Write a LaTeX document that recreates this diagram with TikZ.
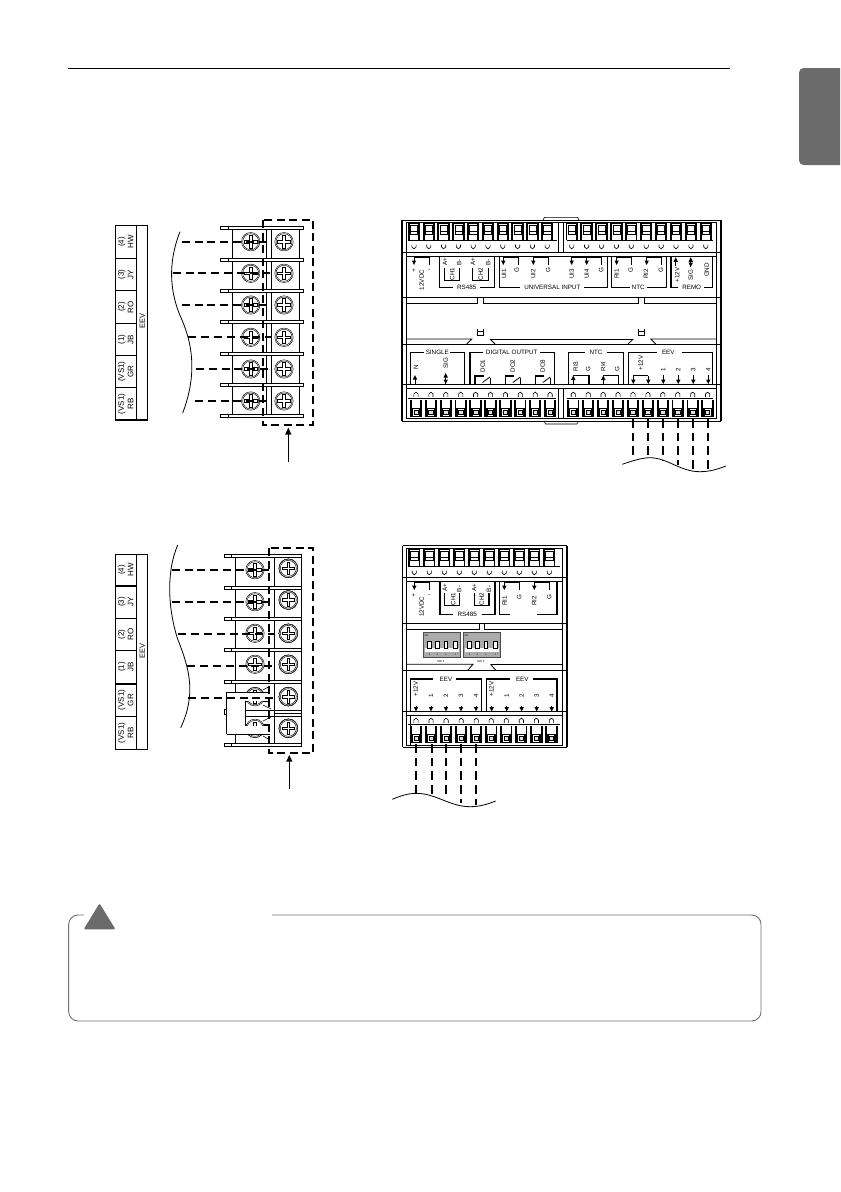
\documentclass[tikz,border=0pt]{standalone}
\usepackage{fontspec}
\setmainfont{Liberation Sans}
\newcounter{nn}
\tikzset{
  lbl/.style={inner sep=0pt,outer sep=0pt,font=\fontsize{4.7}{5}\selectfont},
  rlbl/.style={lbl,rotate=90},
  tbl/.style={inner sep=0pt,outer sep=0pt,font=\fontsize{6}{7}\selectfont,rotate=90},
  tblh/.style={inner sep=0pt,outer sep=0pt,font=\fontsize{5.6}{7}\selectfont,rotate=90},
  hair/.style={line width=0.45pt,black},
  med/.style={line width=0.85pt,black},
  thin2/.style={line width=0.6pt,black},
  thk/.style={line width=1.1pt,black},
  bar/.style={line width=1.4pt,black},
  wire/.style={line width=1.5pt,black,dash pattern=on 6pt off 3.6pt},
  vwire/.style={line width=1.3pt,black,dash pattern=on 6.5pt off 3.8pt},
  box/.style={line width=1.7pt,black,dash pattern=on 6pt off 3.4pt},
  curve/.style={line width=0.6pt,black},
  cbox/.style={line width=0.7pt,draw=gray55},
  dipbox/.style={line width=0.6pt,draw=black!70,fill=black!33}
}
\colorlet{gray55}{black!55}
\newcommand\thennn{\arabic{nn}}
\newcommand\T[3]{\stepcounter{nn}\node[lbl] (t\thennn) at (#1,#2) {#3};}
\newcommand\R[3]{\stepcounter{nn}\node[rlbl] (t\thennn) at (#1,#2) {#3};}
\newcommand\TB[3]{\stepcounter{nn}\node[tbl] (t\thennn) at (#1,#2) {#3};}
% arrows
\newcommand\dn[3]{\draw[hair] (#1,#2) -- (#1,#3-3); \fill ({#1-2.2},{#3-4.5}) -- ({#1+2.2},{#3-4.5}) -- (#1,#3) -- cycle;}
\newcommand\up[3]{\draw[hair] (#1,#2+3) -- (#1,#3); \fill ({#1-2.2},{#2+4.5}) -- ({#1+2.2},{#2+4.5}) -- (#1,#2) -- cycle;}
\newcommand\ud[3]{\up{#1}{#2}{#3}\fill ({#1-2.2},{#3-4.5}) -- ({#1+2.2},{#3-4.5}) -- (#1,#3) -- cycle;}
% screw
\newcommand\screw[2]{\begin{scope}[shift={(#1,#2)}]
 \draw[line width=0.35pt,fill=white] (0,0) circle (9.2);
 \draw[line width=0.35pt] (0,0) circle (8);
 \draw[line width=0.7pt] (-1.3,-6.3)--(1.3,-6.3)--(1.3,-1.3)--(6.3,-1.3)--(6.3,1.3)--(1.3,1.3)--(1.3,6.3)--(-1.3,6.3)--(-1.3,1.3)--(-6.3,1.3)--(-6.3,-1.3)--(-1.3,-1.3)--cycle;
\end{scope}}
% terminals
\newcommand\tterm[2]{\begin{scope}[shift={(#1,#2)}]
 \draw[bar] (-5.2,0)--(-5.2,17);\draw[bar] (5.2,0)--(5.2,17);
 \draw[thin2] (-5.6,0)--(5.6,0);
 \draw[hair] (-3.6,2.5) rectangle (3.6,8.5);
 \draw[hair] (-3.6,8.5)--(-3.6,11)--(3.6,11)--(3.6,8.5);
 \draw[hair] (-2.1,21.5)--(-2.1,24)--(0,25.8)--(2.1,24)--(2.1,21.5);
\end{scope}}
\newcommand\bterm[2]{\begin{scope}[shift={(#1,#2)}]
 \draw[hair] (-2.1,5.5)--(-2.1,2.2)--(0,0.4)--(2.1,2.2)--(2.1,5.5);
 \draw[bar] (-5.2,8.5)--(-5.2,25.5);\draw[bar] (5.2,8.5)--(5.2,25.5);
 \draw[line width=1pt,fill=white] (-3.6,17) rectangle (3.6,24.5);
 \draw[hair,fill=black!12] (-2.2,18.7) rectangle (2.2,23);
\end{scope}}
\begin{document}
\begin{tikzpicture}[x=0.75pt,y=-0.75pt]
\useasboundingbox (0,0) rectangle (840,1192);
\fill[white] (0,0) rectangle (840,1192);
% header + tab
\draw[line width=0.7pt] (68,68) -- (730,68);
\begin{scope}
\clip (790,60) rectangle (840,175);
\fill[black!58,rounded corners=3.5pt] (855,68) -- (799,68) -- (799,165) -- (855,165) -- cycle;
\end{scope}

% ===== left panel 1 =====
\draw[thk] (115.3,225.7) rectangle (147.3,420);
\draw[med] (136.7,225.7) -- (136.7,420);
\foreach \y in {258.3,290.7,323.3,355.7,387.7} \draw[med] (115.3,\y) -- (136.7,\y);
\foreach \y/\a/\b in {242/HW/(4),274.5/JY/(3),307/RO/(2),339.5/JB/(1),371.7/GR/(VS1),404/RB/(VS1)} {
  \TB{130.7}{\y}{\a}
  \TB{121.7}{\y}{\b}
}
\node[tblh] (eev1) at (142.3,320.7) {EEV};
\draw[curve] (180,231.7) .. controls (168,262) and (169,292) .. (182,320) .. controls (194,348) and (196,378) .. (182.7,413);
% tabs
\foreach \y in {227.7,259.3,291,321.7,353.3,385,416} {
  \draw[hair,fill=white] (220.3,\y-1.5) rectangle (303.3,\y+1.5);
  \draw[hair] (228.3,\y-1.5) -- (228.3,\y+1.5);
}
\foreach \a/\b in {229.2/257.8,260.8/289.5,292.5/320.2,323.2/351.8,354.8/383.5,386.5/414.5} {
  \draw[hair,fill=white] (232.7,\a) rectangle (266,\b);
  \draw[hair,fill=white] (271.3,\a) rectangle (299,\b);
}
\foreach \y in {241.7,273.3,305,337.3,369,401} {\screw{250.7}{\y}\screw{284}{\y}}
\foreach \i/\y/\s in {1/241.7/181.7,2/273.3/172.7,3/305/181.7,4/337.3/188.3,5/369/196,6/401/195} {
  \coordinate (pa\i) at (\s,\y);
  \coordinate (pb\i) at (271,\y);
  \draw[wire] (pa\i) -- (pb\i);
}
\draw[box] (263.3,220) rectangle (313.3,425);
\coordinate (ar1a) at (288.3,461.7);
\coordinate (ar1b) at (288.3,427.7);
\draw[thin2] (ar1a) -- (288.3,434);
\fill (285.2,434.5) -- (291.4,434.5) -- (ar1b) -- cycle;

% ===== left panel 2 =====
\draw[thk] (115.3,554.3) rectangle (147.3,749.3);
\draw[med] (136.7,554.3) -- (136.7,749.3);
\foreach \y in {586,618.3,650.7,684,716.7} \draw[med] (115.3,\y) -- (136.7,\y);
\foreach \y/\a/\b in {570/HW/(4),602/JY/(3),634.5/RO/(2),667/JB/(1),700/GR/(VS1),733/RB/(VS1)} {
  \TB{130.7}{\y}{\a}
  \TB{121.7}{\y}{\b}
}
\node[tblh] (eev2) at (142.3,651) {EEV};
\draw[curve] (177.7,545) .. controls (166,572) and (168,610) .. (178,640) .. controls (190,670) and (196,695) .. (180.7,727.7);
\foreach \y in {555.7,587.3,618.3,650,681.7,745} {
  \draw[hair,fill=white] (224.3,\y-1.5) rectangle (301.7,\y+1.5);
  \draw[hair] (231.7,\y-1.5) -- (231.7,\y+1.5);
}
\foreach \a/\b in {557.2/585.8,588.8/616.8,619.8/648.5,651.5/680.2} {
  \draw[hair,fill=white] (235.7,\a) rectangle (274.7,\b);
  \draw[hair,fill=white] (274.7,\a) rectangle (301.7,\b);
}
\draw[hair,fill=white] (235.7,683.2) rectangle (274.7,743.5);
\draw[hair,fill=white] (274.7,683.2) rectangle (301.7,713);
\draw[hair,fill=white] (274.7,713) rectangle (301.7,743.5);
\foreach \y in {569.7,601.7,633.3,664.3} \screw{255}{\y}
\foreach \y in {696.7,728.3} \screw{255}{\y}
\foreach \y in {568.3,600,633.3,664.3,696.7,728.3} \screw{288.3}{\y}
% jumper
\fill[white,even odd rule] (226.7,692) rectangle (270,734) (245.3,701.7) rectangle (270,725);
\draw[hair] (226.7,692) -- (270,692);
\draw[hair] (226.7,734) -- (270,734);
\draw[hair] (226.7,692) -- (226.7,734);
\draw[hair] (224.6,709) rectangle (226.7,714.5);
\fill[white] (245.3,701.7) rectangle (270,725);
\draw[med] (268,701.7) -- (245.3,701.7) -- (245.3,725) -- (268,725);
\begin{scope}
 \clip (245.3,701.7) rectangle (270,725);
 \screw{255}{696.7}\screw{255}{728.3}
\end{scope}
\draw[hair] (245.3,710.7) -- (301,710.7);
\draw[hair] (245.3,716) -- (301,716);
\draw[hair] (263,705) -- (271,709);
\draw[hair] (263,721) -- (271,717);
\draw[hair] (263,690) -- (270,686);
\draw[hair] (263,736) -- (270,740);
\foreach \i/\y/\s in {1/569.7/171.7,2/601.7/171.7,3/633.7/178.3,4/665.7/187.3,5/697.7/188.3} {
  \coordinate (qa\i) at (\s,\y);
  \coordinate (qb\i) at (275,\y);
  \draw[wire] (qa\i) -- (qb\i);
}
\draw[box] (269.3,548.3) rectangle (313.3,753.3);
\coordinate (ar2a) at (289.3,789);
\coordinate (ar2b) at (289.3,755);
\draw[thin2] (ar2a) -- (289.3,761);
\fill (286.2,761.5) -- (292.4,761.5) -- (ar2b) -- cycle;

% ===== controller 1 =====
\draw[thk] (402,220) -- (402,421);
\draw[thk] (721,220) -- (721,421);
\draw[thin2] (402,220) -- (721,220);
\draw[thin2] (402,421) -- (721,421);
\draw[thin2] (406,222.7) -- (716.5,222.7) -- (716.5,418.3) -- (406,418.3) -- cycle;
\draw[hair] (543,220) -- (544.5,217.3) -- (577.5,217.3) -- (579,220);
\draw[hair] (544,421) -- (545.5,424) -- (577,424) -- (578.5,421);
\draw[thin2] (558.7,222.7) -- (558.7,252.7);
\draw[thin2] (563.3,222.7) -- (563.3,252.7);
\draw[thin2] (558.3,388.3) -- (558.3,418.3);
\draw[thin2] (563.3,388.3) -- (563.3,418.3);
\foreach \i in {0,...,9} {
  \tterm{414+14.8*\i}{223}
  \tterm{571.7+14.9*\i}{223}
  \bterm{416+14.9*\i}{391.7}
  \bterm{573.3+14.92*\i}{391.7}
}
\draw[thk] (408.3,240.7) -- (556.7,240.7);
\draw[thk] (566.7,240.7) -- (713.3,240.7);
\draw[thin2] (402,252.7) -- (721,252.7);
\draw[thin2] (406,256.7) -- (716.5,256.7);
\draw[thin2] (402,297.3) -- (721,297.3);
\draw[thin2] (406,303.3) -- (477.7,303.3) -- (477.7,297.3);
\draw[thin2] (483.3,297.3) -- (483.3,303.3) -- (638.7,303.3) -- (638.7,297.3);
\draw[thin2] (644.3,297.3) -- (644.3,303.3) -- (716.5,303.3);
\foreach \x in {477.3,638.3} \draw[thin2] (\x,329) -- (\x,335.5) -- (\x+6,335.5) -- (\x+6,329) -- (\x+6,331) -- (\x,331);
\draw[thin2] (406,339) -- (471.7,339) -- (466.7,344);
\draw[thin2] (716.5,339) -- (650.7,339) -- (655.7,344);
\draw[thin2] (490,339) -- (495,344);
\draw[thin2] (633.3,339) -- (628,344);
\draw[thin2] (490,339) -- (633.3,339);
\draw[thin2] (402,344) -- (721,344);
\draw[thin2] (402,384) -- (721,384);
\draw[thin2] (406,388.3) -- (716.5,388.3);
\draw[thk] (408,398.3) -- (556,398.3);
\draw[thk] (566.7,398.3) -- (713.3,398.3);
% top labels
\T{414}{270.5}{+}\T{429.3}{270.5}{-}
\R{421.7}{280}{12VDC}
\dn{414}{257.3}{265}
\draw[med] (414,257.3) -- (429.3,257.3) -- (429.3,265);
\draw[med] (453,287.3) -- (439.3,287.3) -- (439.3,257.3);
\draw[med] (480,287.3) -- (494.3,287.3) -- (494.3,257.3);
\T{466.7}{287.3}{RS485}
\R{445}{261.7}{A+}\R{459.3}{262.5}{B-}\R{473}{261.7}{A+}\R{488.3}{262.5}{B-}
\R{452.3}{274}{CH1}\R{480.7}{274}{CH2}
\draw[med] (444.3,268.3) -- (444.3,280.7) -- (459.3,280.7) -- (459.3,268.3);
\draw[med] (472.7,268.3) -- (472.7,280.7) -- (488.3,280.7) -- (488.3,268.3);
\draw[med] (520,287.3) -- (499.3,287.3) -- (499.3,257.3);
\draw[med] (584.3,287.3) -- (607.3,287.3) -- (607.3,257.3);
\T{552.3}{287.3}{UNIVERSAL INPUT}
\foreach \a/\b in {503.3/518.3,533.3/548.3,616.7/631.7,646.7/661.7} {
  \dn{\a}{257.3}{265}
  \draw[med] (\a,257.3) -- (\b,257.3) -- (\b,265);
}
\dn{571.7}{257.3}{265}\dn{586.7}{257.3}{265}
\draw[med] (571.7,257.3) -- (601.7,257.3) -- (601.7,265);
\R{504}{274}{UI1}\R{516.7}{270}{G}\R{533.3}{274}{UI2}\R{548.3}{270}{G}
\R{571.7}{274}{UI3}\R{586.7}{274}{UI4}\R{601.3}{270}{G}
\draw[med] (630,287.3) -- (611.7,287.3) -- (611.7,257.3);
\draw[med] (646.7,287.3) -- (666.7,287.3) -- (666.7,257.3);
\T{638.3}{287.3}{NTC}
\R{616.7}{274}{RI1}\R{630.7}{270}{G}\R{646}{274}{RI2}\R{661}{270}{G}
\draw[med] (678.3,287.3) -- (671,287.3) -- (671,257.3);
\draw[med] (704,287.3) -- (712.7,287.3) -- (712.7,257.3);
\T{691.7}{287.3}{REMO}
\up{675.7}{257.3}{266}
\ud{690.7}{257.3}{267}
\R{677.3}{275}{+12V}\R{690.7}{275}{SIG}\R{706.7}{270}{GND}
% bottom labels
\draw[med] (424,352.7) -- (410.7,352.7) -- (410.7,384);
\draw[med] (450,352.7) -- (464.3,352.7) -- (464.3,384);
\T{437.3}{352.7}{SINGLE}
\up{415}{375}{384}\ud{445.7}{373}{384}
\R{416}{367.3}{N}\R{445.7}{363.5}{SIG}
\draw[med] (483.3,352.7) -- (470,352.7) -- (470,384);
\draw[med] (540,352.7) -- (554.7,352.7) -- (554.7,384);
\T{511.7}{352.7}{DIGITAL OUTPUT}
\foreach \x/\l/\n in {475/482.7/DO1,505.3/512.7/DO2,535.3/542.7/DO3} {
  \draw[med] (\x,384) -- (\x,376) -- (\x+8.5,376);
  \draw[thin2] (\x+7.5,382.5) -- (\x+15,377);
  \draw[thin2] (\x+15.5,377.5) -- (\x+15.5,384);
  \R{\l}{366}{\n}
}
\draw[med] (585,352.7) -- (568.3,352.7) -- (568.3,384);
\draw[med] (607.3,352.7) -- (623.3,352.7) -- (623.3,384);
\T{596}{352.7}{NTC}
\up{573.3}{375.5}{384}\draw[med] (573.3,375.5) -- (589,375.5) -- (589,384);
\up{603.3}{375.5}{384}\draw[med] (603.3,375.5) -- (618.3,375.5) -- (618.3,384);
\R{575.7}{366.5}{RI3}\R{588.3}{369.3}{G}\R{603.3}{366.5}{RI4}\R{617.3}{369.3}{G}
\draw[med] (656.7,352.7) -- (628.3,352.7) -- (628.3,384);
\draw[med] (681.7,352.7) -- (712.7,352.7) -- (712.7,384);
\T{668.3}{352.7}{EEV}
\R{640.7}{363}{+12V}\R{663.3}{369.3}{1}\R{678.3}{369.3}{2}\R{693.3}{369.3}{3}\R{708.3}{369.3}{4}
\draw[med] (633.3,375.5) -- (648.3,375.5);
\dn{633.3}{375.5}{384}\dn{648.3}{375.5}{384}
\foreach \x in {663.3,678.3,693.3,708.3} {\dn{\x}{375}{384}}
\foreach \i/\x/\e in {1/633.3/458.3,2/648/459,3/663.3/460.7,4/678/465,5/692.7/469.3,6/707.7/469.3} {
  \coordinate (ra\i) at (\x,419);
  \coordinate (rb\i) at (\x,\e);
  \draw[vwire] (ra\i) -- (rb\i);
}
\draw[curve] (622.3,464.3) .. controls (632,461) and (642,457.7) .. (650,457.7) .. controls (668,458) and (680,471.7) .. (700,471.7) .. controls (710,471.7) and (718,469) .. (726,466);

% ===== controller 2 =====
\draw[thk] (402.5,545.7) -- (402.5,747.3);
\draw[thk] (567,545.7) -- (567,747.3);
\draw[thin2] (402.5,545.7) -- (567,545.7);
\draw[thin2] (402.5,747.3) -- (567,747.3);
\draw[thin2] (406,548.3) -- (562,548.3) -- (562,745) -- (406,745) -- cycle;
\foreach \i in {0,...,9} {
  \tterm{414.3+15*\i}{549}
  \bterm{416+15.05*\i}{717.7}
}
\draw[thk] (408,566.7) -- (560,566.7);
\draw[thin2] (402.5,577.7) -- (567,577.7);
\draw[thin2] (406,581.7) -- (562,581.7);
\draw[thin2] (402.5,623.3) -- (567,623.3);
\draw[thin2] (406,629.3) -- (479.3,629.3) -- (479.3,623.3);
\draw[thin2] (484.3,623.3) -- (484.3,629.3) -- (562,629.3);
\draw[thin2] (406,664.3) -- (473,664.3) -- (467.5,670.5);
\draw[thin2] (490.5,664.3) -- (496,670.5);
\draw[thin2] (490.5,664.3) -- (562,664.3);
\draw[thin2] (402.5,670.7) -- (567,670.7);
\draw[thin2] (402.5,711.7) -- (567,711.7);
\draw[thin2] (406,715) -- (562,715);
\draw[thk] (408,724.3) -- (560,724.3);
\draw[hair] (410,715) -- (410,745);
\T{413.5}{595.5}{+}\T{429.3}{595.5}{-}
\R{421.7}{606.7}{12VDC}
\dn{414.3}{582.3}{590}
\draw[med] (414.3,582.3) -- (429.3,582.3) -- (429.3,590);
\draw[med] (452.7,614.3) -- (440,614.3) -- (440,582.3);
\draw[med] (481.7,614.3) -- (495,614.3) -- (495,582.3);
\T{467.3}{614.3}{RS485}
\R{445}{587.7}{A+}\R{459.3}{589}{B-}\R{474.3}{587.7}{A+}\R{489}{589}{B-}
\R{453.3}{599}{CH1}\R{481.7}{599}{CH2}
\draw[med] (444.3,593.3) -- (444.3,605.7) -- (459.3,605.7) -- (459.3,593.3);
\draw[med] (474.3,593.3) -- (474.3,605.7) -- (489,605.7) -- (489,593.3);
\draw[med] (499.3,582.3) -- (499.3,614.3) -- (510,614.3);
\draw[med] (537,614.3) -- (557,614.3) -- (557,582.3);
\foreach \a/\b in {504.3/519.3,534.3/549.3} {
  \dn{\a}{582.3}{590}
  \draw[med] (\a,582.3) -- (\b,582.3) -- (\b,590);
}
\R{504.7}{601}{RI1}\R{519.3}{597}{G}\R{534.3}{601}{RI2}\R{549.3}{597}{G}
% DIP switches
\foreach \x/\s in {423.3/1,463.3/2} {
  \draw[dipbox] (\x,632.3) rectangle (\x+37.5,657.7);
  \node[lbl,font=\fontsize{1.8}{2}\selectfont] (on\s) at (\x+3,635.5) {ON};
  \fill[white] (\x+1.5,648) rectangle (\x+36,652);
  \foreach \k/\d in {1/6,2/14,3/22.5,4/32} {
    \draw[line width=0.5pt,fill=white] (\x+\d-1.7,641) rectangle (\x+\d+1.7,648);
    \stepcounter{nn}\node[lbl,font=\fontsize{1.8}{2}\selectfont] (t\thennn) at (\x+\d,654.5) {\k};
  }
  \node[lbl,font=\fontsize{2.2}{3}\selectfont] (sw\s) at (\x+17.5,661) {SW \s};
}
% EEV
\draw[med] (433.3,679) -- (410.7,679) -- (410.7,711.7);
\draw[med] (456,679) -- (481.7,679) -- (481.7,711.7);
\T{446}{679}{EEV}
\draw[med] (510,679) -- (486.7,679) -- (486.7,711.7);
\draw[med] (532.7,679) -- (557,679) -- (557,711.7);
\T{522.3}{679}{EEV}
\foreach \o in {0,75.7} {
  \R{415.7+\o}{689}{+12V}\R{431+\o}{696}{1}\R{446+\o}{696}{2}\R{461+\o}{696}{3}\R{476+\o}{696}{4}
}
\foreach \x in {416,431,446,461,476,491.7,506.7,521.7,536.7,551.7} {\dn{\x}{706}{711.5}}
\foreach \i/\x/\e in {1/416/795,2/431.7/795.7,3/446/797.7,4/461/803.3,5/476/805} {
  \coordinate (sa\i) at (\x,744);
  \coordinate (sb\i) at (\x,\e);
  \draw[vwire] (sa\i) -- (sb\i);
}
\draw[curve] (392.3,799.3) .. controls (400,796) and (408,793.3) .. (416.7,793.3) .. controls (436,793.5) and (450,806.7) .. (470,806.7) .. controls (480,806.7) and (488,804) .. (495.7,801);

% ===== caution box =====
\draw[cbox,rounded corners=7pt] (84,915) -- (68.7,915) -- (68.7,1021) -- (761,1021) -- (761,915) -- (272,915);
\fill[black!58,rounded corners=1pt] (99.5,903.3) -- (115.5,929.3) -- (83.7,929.3) -- cycle;
\end{tikzpicture}
\end{document}
